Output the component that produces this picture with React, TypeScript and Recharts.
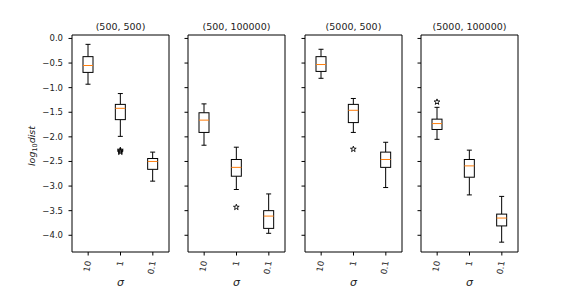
import React from 'react';
import { ComposedChart, Bar, XAxis, YAxis } from 'recharts';

const categories = ['10', '1', '0.1'];
const titles = ['(500, 500)', '(500, 100000)', '(5000, 500)', '(5000, 100000)'];
const whiskerLow = [
  [-0.93, -1.99, -2.9],
  [-2.17, -3.07, -3.96],
  [-0.81, -1.91, -3.03],
  [-2.05, -3.18, -4.14],
];
const quartile1 = [
  [-0.69, -1.65, -2.66],
  [-1.91, -2.8, -3.86],
  [-0.67, -1.71, -2.62],
  [-1.85, -2.82, -3.81],
];
const medians = [
  [-0.55, -1.42, -2.5],
  [-1.66, -2.62, -3.61],
  [-0.53, -1.46, -2.46],
  [-1.73, -2.59, -3.65],
];
const quartile3 = [
  [-0.37, -1.34, -2.44],
  [-1.51, -2.46, -3.5],
  [-0.37, -1.34, -2.31],
  [-1.64, -2.46, -3.57],
];
const whiskerHigh = [
  [-0.12, -1.12, -2.31],
  [-1.33, -2.21, -3.16],
  [-0.22, -1.22, -2.11],
  [-1.4, -2.27, -3.21],
];
const outliers = [
  [[], [-2.27, -2.29, -2.31], []],
  [[], [-3.43], []],
  [[], [-2.25], []],
  [[-1.29], [], []],
];
const yTicks = [0, -0.5, -1, -1.5, -2, -2.5, -3, -3.5, -4];
const yDomain = [-4.34, 0.07];

const FONT = '"DejaVu Sans", sans-serif';
const panelLefts = [72, 188, 305, 421];
const PLOT_W = 97;
const AXIS_W = 40;
const RIGHT_M = 9;

function starPoints(cx: number, cy: number, R: number) {
  const r = R * 0.4;
  const pts: string[] = [];
  for (let i = 0; i < 10; i++) {
    const rad = i % 2 === 0 ? R : r;
    const a = -Math.PI / 2 + (i * Math.PI) / 5;
    pts.push(`${cx + rad * Math.cos(a)},${cy + rad * Math.sin(a)}`);
  }
  return pts.join(' ');
}

const BoxShape = (props: any) => {
  const { x, y, width, height, payload } = props;
  if (payload == null) return null;
  const top = Math.min(y, y + height);
  const bot = Math.max(y, y + height);
  const span = payload.hi - payload.lo;
  const py = (v: number) => top + ((payload.hi - v) / span) * (bot - top);
  const cx = x + width / 2;
  const cap = width / 4;
  const yq1 = py(payload.q1);
  const yq3 = py(payload.q3);
  const ymed = py(payload.med);
  return (
    <g>
      <line x1={cx} x2={cx} y1={top} y2={yq3} stroke="#000" strokeWidth={1} />
      <line x1={cx} x2={cx} y1={yq1} y2={bot} stroke="#000" strokeWidth={1} />
      <line x1={cx - cap} x2={cx + cap} y1={top} y2={top} stroke="#000" strokeWidth={1} />
      <line x1={cx - cap} x2={cx + cap} y1={bot} y2={bot} stroke="#000" strokeWidth={1} />
      <rect x={x} y={yq3} width={width} height={yq1 - yq3} fill="#fff" stroke="#000" strokeWidth={1} />
      <line x1={x} x2={x + width} y1={ymed} y2={ymed} stroke="#ff7f0e" strokeWidth={1} />
      {payload.fliers.map((f: number, i: number) => (
        <polygon key={i} points={starPoints(cx, py(f), 3)} fill="none" stroke="#000" strokeWidth={0.9} />
      ))}
    </g>
  );
};

const XTick = (props: any) => {
  const { x, y, payload } = props;
  return (
    <g transform={`translate(${x},${y + 2})`}>
      <text
        transform="rotate(-80)"
        textAnchor="end"
        dominantBaseline="central"
        fontSize={8.5}
        fontFamily={FONT}
        fill="#222"
      >
        {payload.value}
      </text>
    </g>
  );
};

const EmptyTick = () => null;

const fmt = (v: number) => (v < 0 ? '\u2212' + Math.abs(v).toFixed(1) : v.toFixed(1));

function Panel({ idx }: { idx: number }) {
  const data = categories.map((c, j) => ({
    name: c,
    lo: whiskerLow[idx][j],
    q1: quartile1[idx][j],
    med: medians[idx][j],
    q3: quartile3[idx][j],
    hi: whiskerHigh[idx][j],
    fliers: outliers[idx][j],
  }));
  const first = idx === 0;
  return (
    <div style={{ position: 'absolute', left: panelLefts[idx] - AXIS_W, top: 0 }}>
      <ComposedChart
        width={AXIS_W + PLOT_W + RIGHT_M + 1}
        height={288}
        data={data}
        margin={{ top: 34, right: RIGHT_M, bottom: 0, left: 0 }}
      >
        <XAxis
          dataKey="name"
          type="category"
          height={36}
          axisLine={{ stroke: '#000' }}
          tickLine={{ stroke: '#000' }}
          tickSize={3.5}
          tickMargin={3.5}
          tick={<XTick />}
          interval={0}
        />
        <XAxis
          xAxisId="top"
          dataKey="name"
          orientation="top"
          height={1}
          tick={false}
          tickLine={false}
          axisLine={{ stroke: '#000' }}
        />
        <YAxis
          type="number"
          domain={yDomain}
          ticks={yTicks}
          width={AXIS_W}
          allowDataOverflow
          axisLine={{ stroke: '#000' }}
          tickLine={{ stroke: '#000' }}
          tickSize={3.5}
          tickMargin={5.5}
          tick={first ? { fontSize: 8.5, fontFamily: FONT, fill: '#222' } : <EmptyTick />}
          tickFormatter={fmt}
        />
        <YAxis
          yAxisId="right"
          orientation="right"
          type="number"
          domain={yDomain}
          width={1}
          tick={false}
          tickLine={false}
          axisLine={{ stroke: '#000' }}
        />
        <Bar
          dataKey={(d: any) => [d.lo, d.hi]}
          barSize={10}
          shape={BoxShape}
          isAnimationActive={false}
        />
      </ComposedChart>
    </div>
  );
}

export default function App() {
  return (
    <div style={{ position: 'absolute', left: 0, top: 0, width: 576, height: 288, background: '#fff' }}>
      {[0, 1, 2, 3].map((i) => (
        <Panel key={i} idx={i} />
      ))}
      <svg
        width={576}
        height={288}
        style={{ position: 'absolute', left: 0, top: 0, pointerEvents: 'none' }}
      >
        {titles.map((t, i) => (
          <text
            key={'t' + i}
            x={panelLefts[i] + PLOT_W / 2}
            y={29.5}
            textAnchor="middle"
            fontSize={9.5}
            fontFamily={FONT}
            fill="#222"
          >
            {t}
          </text>
        ))}
        {titles.map((_, i) => (
          <text
            key={'s' + i}
            x={panelLefts[i] + PLOT_W / 2}
            y={286}
            textAnchor="middle"
            fontSize={11}
            fontStyle="italic"
            fontFamily={FONT}
            fill="#222"
          >
            σ
          </text>
        ))}
        <text
          transform="translate(35,146) rotate(-90)"
          textAnchor="middle"
          fontSize={9.5}
          fontStyle="italic"
          fontFamily={FONT}
          fill="#222"
        >
          <tspan>log</tspan>
          <tspan fontSize={6.5} fontStyle="normal" dy={2}>10</tspan>
          <tspan dy={-2}>dist</tspan>
        </text>
      </svg>
    </div>
  );
}
